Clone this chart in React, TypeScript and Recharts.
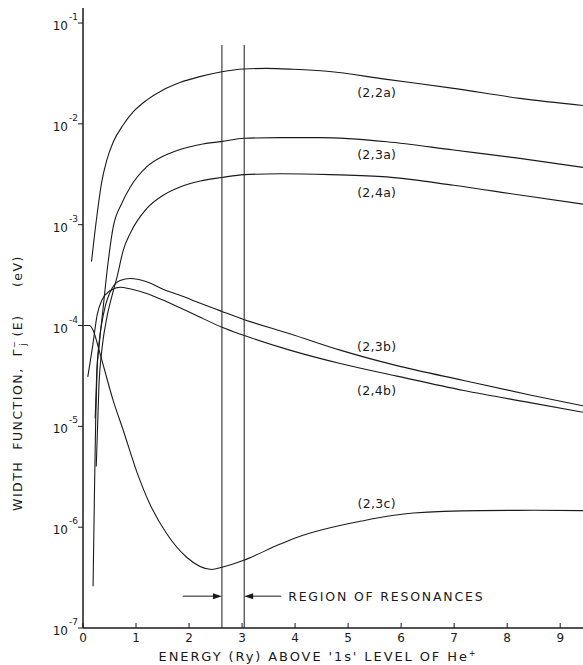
import { LineChart, Line, XAxis, YAxis, ReferenceLine, ReferenceDot } from "recharts";

// energy above 1s level of He+ (Ry)
const energyTicks = [0, 1, 2, 3, 4, 5, 6, 7, 8, 9];
// width function (eV), decades
const widthTicks = [1e-7, 1e-6, 1e-5, 1e-4, 1e-3, 1e-2, 1e-1];
const tickExponents = ["-7", "-6", "-5", "-4", "-3", "-2", "-1"];

const e22a = [0.16, 0.26, 0.35, 0.45, 0.57, 0.76, 0.95, 1.2, 1.5, 1.83, 2.2, 2.62, 3.04, 3.46, 3.97, 4.6, 5.73, 6.99, 8.24, 9.43];
const w22a = [4.3e-4, 1.2e-3, 2.6e-3, 4.4e-3, 6.6e-3, 9.8e-3, 1.32e-2, 1.72e-2, 2.16e-2, 2.57e-2, 2.94e-2, 3.29e-2, 3.5e-2, 3.55e-2, 3.48e-2, 3.33e-2, 2.76e-2, 2.25e-2, 1.79e-2, 1.52e-2];

const e23a = [0.19, 0.215, 0.24, 0.265, 0.3, 0.38, 0.46, 0.57, 0.73, 0.89, 1.2, 1.52, 1.83, 2.21, 2.62, 3.04, 3.72, 4.47, 5.73, 6.99, 8.24, 9.43];
const w23a = [2.6e-7, 2e-6, 1.2e-5, 3.6e-5, 6e-5, 1.5e-4, 3.7e-4, 9.5e-4, 1.62e-3, 2.35e-3, 3.74e-3, 4.8e-3, 5.57e-3, 6.25e-3, 6.7e-3, 7.2e-3, 7.3e-3, 7.3e-3, 6.65e-3, 5.5e-3, 4.55e-3, 3.7e-3];

const e24a = [0.25, 0.3, 0.36, 0.45, 0.55, 0.64, 0.76, 0.89, 1.2, 1.52, 1.83, 2.21, 2.62, 3.04, 3.72, 4.66, 5.73, 6.99, 8.24, 9.43];
const w24a = [4e-6, 2.5e-5, 6e-5, 1.2e-4, 2.0e-4, 3.0e-4, 5.6e-4, 8.2e-4, 1.44e-3, 1.97e-3, 2.37e-3, 2.71e-3, 2.94e-3, 3.14e-3, 3.2e-3, 3.14e-3, 2.98e-3, 2.46e-3, 1.97e-3, 1.6e-3];

const e23b = [0.23, 0.26, 0.3, 0.4, 0.55, 0.7, 0.89, 1.2, 1.52, 1.83, 2.14, 2.62, 3.03, 3.9, 4.85, 5.92, 7.18, 8.43, 9.43];
const w23b = [1.2e-5, 3.5e-5, 6.5e-5, 1.4e-4, 2.35e-4, 2.8e-4, 2.93e-4, 2.72e-4, 2.28e-4, 2.0e-4, 1.72e-4, 1.38e-4, 1.15e-4, 8.3e-5, 5.7e-5, 4.0e-5, 2.85e-5, 2.05e-5, 1.6e-5];

const e24b = [0.09, 0.175, 0.27, 0.36, 0.5, 0.7, 0.9, 1.2, 1.52, 1.83, 2.14, 2.62, 3.03, 3.9, 4.85, 5.92, 7.18, 8.43, 9.43];
const w24b = [3.1e-5, 5.9e-5, 1.3e-4, 1.8e-4, 2.2e-4, 2.4e-4, 2.3e-4, 2.08e-4, 1.78e-4, 1.5e-4, 1.26e-4, 9.6e-5, 8.0e-5, 5.7e-5, 4.2e-5, 3.15e-5, 2.27e-5, 1.72e-5, 1.38e-5];

const e23c = [0.02, 0.12, 0.19, 0.32, 0.57, 0.76, 1.01, 1.26, 1.58, 1.96, 2.43, 2.62, 3.03, 3.72, 4.03, 5.29, 6.23, 7.49, 8.5, 9.43];
const w23c = [1.0e-4, 1.0e-4, 9e-5, 5.3e-5, 1.8e-5, 9.1e-6, 3.6e-6, 1.7e-6, 8.6e-7, 5.0e-7, 3.8e-7, 4.0e-7, 4.7e-7, 6.8e-7, 7.9e-7, 1.16e-6, 1.38e-6, 1.46e-6, 1.47e-6, 1.46e-6];

const seriesNames = ["(2,2a)", "(2,3a)", "(2,4a)", "(2,3b)", "(2,4b)", "(2,3c)"];
const labelEnergy = [5.54, 5.54, 5.54, 5.54, 5.54, 5.54];
const labelWidth = [2.04e-2, 5.0e-3, 2.07e-3, 6.25e-5, 2.29e-5, 1.72e-6];

// region of resonances
const resonanceBounds = [2.62, 3.04];
const resonanceTop = 0.0605;
const arrowLevel = 2.07e-7;
const arrowTails = [1.88, 3.74];

const zip = (xs: number[], ys: number[]) => xs.map((x, i) => ({ x, y: ys[i] }));
const series = [
  zip(e22a, w22a),
  zip(e23a, w23a),
  zip(e24a, w24a),
  zip(e23b, w23b),
  zip(e24b, w24b),
  zip(e23c, w23c),
];

const INK = "#1a1a1a";
const FONT = "'DejaVu Sans', sans-serif";

const XTick = ({ x, y, payload }: any) => (
  <g>
    <line x1={x} y1={y} x2={x} y2={y - 5} stroke={INK} strokeWidth={1} />
    <text x={x} y={y + 14} textAnchor="middle" fontSize={12} fontFamily={FONT} fill={INK}>
      {payload.value}
    </text>
  </g>
);

const YTick = ({ x, y, payload, index }: any) => (
  <g>
    <line x1={x - 5} y1={y} x2={x} y2={y} stroke={INK} strokeWidth={1} />
    <text x={x - 15} y={y + 7} textAnchor="end" fontSize={12} fontFamily={FONT} fill={INK}>
      10
    </text>
    <text x={x - 14} y={y - 3} textAnchor="start" fontSize={9} fontFamily={FONT} fill={INK}>
      {tickExponents[index] ?? payload.value}
    </text>
  </g>
);

const ArrowShape = (props: any) => {
  const { x1, y1, x2, y2 } = props;
  const dir = x2 > x1 ? 1 : -1;
  return (
    <g>
      <line x1={x1} y1={y1} x2={x2 - dir * 6} y2={y2} stroke={INK} strokeWidth={1} />
      <polygon points={`${x2},${y2} ${x2 - dir * 9},${y2 - 3} ${x2 - dir * 9},${y2 + 3}`} fill={INK} />
    </g>
  );
};

const makeLabel = (text: string) => (props: any) => (
  <text
    x={props.cx}
    y={props.cy}
    textAnchor="middle"
    dominantBaseline="central"
    fontSize={12.5}
    letterSpacing={0.3}
    fontFamily={FONT}
    fill={INK}
  >
    {text}
  </text>
);

export default function App() {
  return (
    <div style={{ position: "absolute", left: 0, top: 0, width: 583, height: 665, background: "#fff" }}>
      <LineChart width={583} height={665} margin={{ top: 8, right: 0, bottom: 0, left: 0 }}>
        <XAxis
          type="number"
          dataKey="x"
          domain={[0, 9.43]}
          ticks={energyTicks}
          allowDataOverflow
          height={37}
          tickSize={0}
          tickMargin={0}
          tickLine={false}
          tick={<XTick />}
          axisLine={{ stroke: INK, strokeWidth: 1.5 }}
        />
        <YAxis
          type="number"
          scale="log"
          domain={[1e-7, 0.141]}
          ticks={widthTicks}
          allowDataOverflow
          width={83}
          tickSize={0}
          tickMargin={0}
          tickLine={false}
          tick={<YTick />}
          axisLine={{ stroke: INK, strokeWidth: 1.5 }}
        />
        {resonanceBounds.map((b) => (
          <ReferenceLine
            key={b}
            segment={[
              { x: b, y: resonanceTop },
              { x: b, y: 1e-7 },
            ]}
            stroke={INK}
            strokeWidth={1}
          />
        ))}
        {arrowTails.map((t, i) => (
          <ReferenceLine
            key={t}
            segment={[
              { x: t, y: arrowLevel },
              { x: resonanceBounds[i], y: arrowLevel },
            ]}
            shape={ArrowShape}
          />
        ))}
        <ReferenceDot
          x={3.87}
          y={arrowLevel}
          r={0}
          shape={(p: any) => (
            <text
              x={p.cx}
              y={p.cy}
              dominantBaseline="central"
              fontSize={12.5}
              letterSpacing={1.8}
              fontFamily={FONT}
              fill={INK}
            >
              REGION OF RESONANCES
            </text>
          )}
        />
        {series.map((d, i) => (
          <Line
            key={seriesNames[i]}
            data={d}
            dataKey="y"
            type="monotone"
            stroke={INK}
            strokeWidth={1.1}
            dot={false}
            isAnimationActive={false}
          />
        ))}
        {seriesNames.map((n, i) => (
          <ReferenceDot key={n} x={labelEnergy[i]} y={labelWidth[i]} r={0} shape={makeLabel(n)} />
        ))}
      </LineChart>
      <svg
        width={583}
        height={665}
        style={{ position: "absolute", left: 0, top: 0, pointerEvents: "none" }}
      >
        <text
          x={318}
          y={661}
          textAnchor="middle"
          fontSize={13}
          letterSpacing={1.9}
          fontFamily={FONT}
          fill={INK}
          style={{ whiteSpace: "pre" }}
        >
          {"ENERGY (Ry) ABOVE '1s' LEVEL OF He"}
          <tspan dy={-5} fontSize={8}>+</tspan>
        </text>
        <text
          transform="translate(22,383) rotate(-90)"
          textAnchor="middle"
          fontSize={12.5}
          letterSpacing={1.5}
          fontFamily={FONT}
          fill={INK}
          style={{ whiteSpace: "pre" }}
        >
          {"WIDTH  FUNCTION,  Γ"}
          <tspan dy={-5} fontSize={8}>−</tspan>
          <tspan dx={-6} dy={9} fontSize={8}>j</tspan>
          <tspan dy={-4}>{" (E)     (eV)"}</tspan>
        </text>
      </svg>
    </div>
  );
}
